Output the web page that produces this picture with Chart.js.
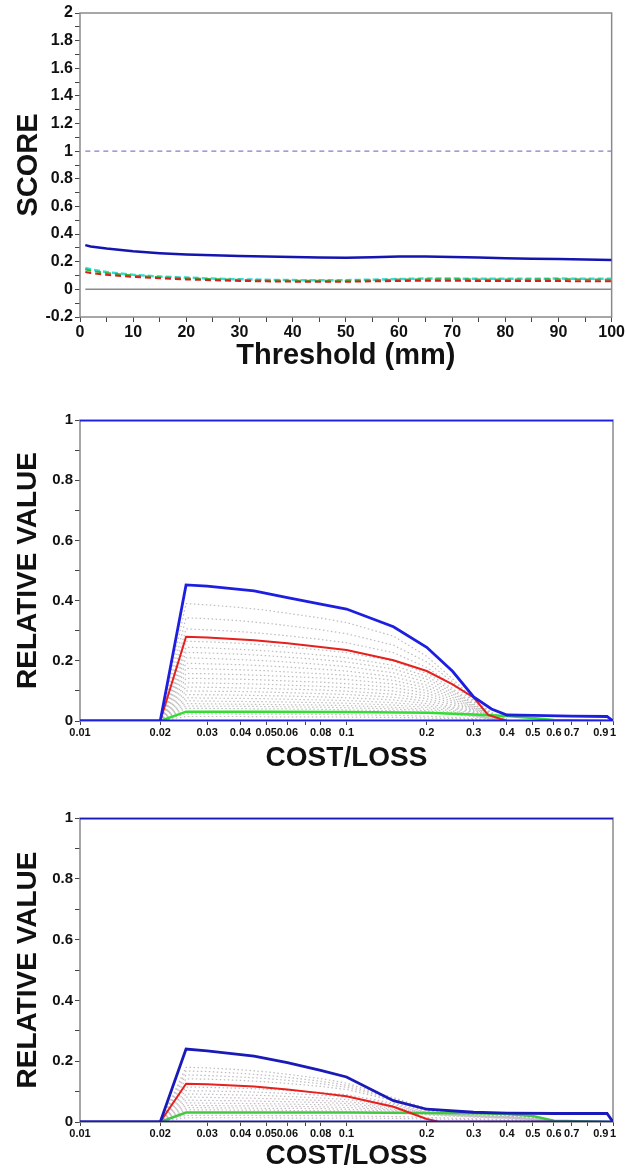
<!DOCTYPE html>
<html>
<head>
<meta charset="utf-8">
<script src="https://cdn.jsdelivr.net/npm/chart.js@4.4.1/dist/chart.umd.min.js"></script>
<style>
    body { margin: 0; background: #fff; }
    #wrap { position: relative; width: 626px; height: 1170px; }
    .panel { position: absolute; left: 0; width: 626px; }
</style>
</head>
<body>
<div id="wrap">
    <div class="panel" style="top:0;height:370px"><canvas id="scoreChart"></canvas></div>
    <div class="panel" style="top:390px;height:382px"><canvas id="valueChartA"></canvas></div>
    <div class="panel" style="top:780px;height:390px"><canvas id="valueChartB"></canvas></div>
</div>
<script>
// --- Score vs threshold ---
const thresholds = [1, 2, 5, 10, 15, 20, 25, 30, 35, 40, 45, 50, 55, 60, 65, 70, 75, 80, 85, 90, 95, 100];
const scoreBlue  = [0.320, 0.310, 0.295, 0.275, 0.262, 0.253, 0.247, 0.241, 0.237, 0.234, 0.231, 0.228, 0.232, 0.237, 0.237, 0.235, 0.230, 0.225, 0.222, 0.220, 0.216, 0.212];
const scoreCyan  = [0.155, 0.145, 0.125, 0.105, 0.093, 0.085, 0.078, 0.073, 0.069, 0.067, 0.066, 0.066, 0.070, 0.075, 0.078, 0.078, 0.077, 0.076, 0.077, 0.078, 0.077, 0.076];
const scoreGreen = [0.145, 0.135, 0.118, 0.100, 0.088, 0.080, 0.074, 0.069, 0.065, 0.063, 0.062, 0.062, 0.066, 0.071, 0.073, 0.073, 0.072, 0.071, 0.072, 0.073, 0.072, 0.070];
const scoreRed   = [0.125, 0.118, 0.105, 0.090, 0.080, 0.072, 0.066, 0.061, 0.058, 0.056, 0.055, 0.055, 0.058, 0.061, 0.062, 0.062, 0.061, 0.060, 0.060, 0.060, 0.059, 0.058];
const scoreRefX  = [1, 100];
const scorePerfect = [1, 1];
const scoreZero    = [0, 0];

// --- Relative value, first panel ---
const costLossTicks = [0.01, 0.02, 0.03, 0.04, 0.05, 0.06, 0.07, 0.08, 0.1, 0.2, 0.3, 0.4, 0.5, 0.6, 0.7, 0.8, 0.9, 1];
const costLossLabels = ["0.01", "0.02", "0.03", "0.04", "0.05", "0.06", "", "0.08", "0.1", "0.2", "0.3", "0.4", "0.5", "0.6", "0.7", "", "0.9", "1"];
const fullRangeX = [0.01, 1];
const levelOne = [1, 1];
const levelZero = [0, 0];

const valueA_blueX  = [0.01, 0.02, 0.025, 0.03, 0.045, 0.06, 0.08, 0.1, 0.15, 0.2, 0.25, 0.3, 0.35, 0.4, 0.5, 0.7, 0.95, 1];
const valueA_blue   = [0, 0, 0.452, 0.448, 0.432, 0.410, 0.388, 0.372, 0.313, 0.245, 0.165, 0.080, 0.040, 0.020, 0.019, 0.016, 0.015, 0];
const valueA_redX   = [0.02, 0.025, 0.03, 0.045, 0.06, 0.08, 0.1, 0.15, 0.2, 0.25, 0.3, 0.34, 0.4, 1];
const valueA_red    = [0, 0.280, 0.277, 0.268, 0.258, 0.246, 0.236, 0.202, 0.166, 0.122, 0.078, 0.020, 0, 0];
const valueA_greenX = [0.02, 0.025, 0.05, 0.1, 0.2, 0.3, 0.4, 0.5, 0.6, 1];
const valueA_green  = [0, 0.031, 0.031, 0.030, 0.027, 0.022, 0.017, 0.010, 0.003, 0];

const valueA_grayX = [0.02, 0.025, 0.03, 0.04, 0.05, 0.06, 0.08, 0.1, 0.15, 0.2, 0.25, 0.3, 0.35, 0.4];
const valueA_gray = [
    [0, 0.390, 0.386, 0.377, 0.368, 0.358, 0.342, 0.327, 0.282, 0.215, 0.140, 0.072, 0.028, 0.008],
    [0, 0.343, 0.340, 0.333, 0.325, 0.317, 0.303, 0.290, 0.252, 0.196, 0.130, 0.068, 0.026, 0.007],
    [0, 0.306, 0.303, 0.297, 0.290, 0.283, 0.271, 0.260, 0.227, 0.178, 0.120, 0.064, 0.024, 0.006],
    [0, 0.265, 0.263, 0.258, 0.252, 0.246, 0.236, 0.227, 0.199, 0.158, 0.108, 0.058, 0.022, 0.005],
    [0, 0.245, 0.243, 0.238, 0.233, 0.228, 0.219, 0.210, 0.185, 0.148, 0.102, 0.055, 0.020, 0.005],
    [0, 0.228, 0.226, 0.222, 0.217, 0.212, 0.204, 0.196, 0.173, 0.139, 0.096, 0.052, 0.019, 0.004],
    [0, 0.210, 0.208, 0.204, 0.200, 0.196, 0.188, 0.181, 0.160, 0.129, 0.090, 0.049, 0.018, 0.004],
    [0, 0.192, 0.190, 0.187, 0.183, 0.179, 0.172, 0.166, 0.147, 0.119, 0.084, 0.046, 0.017, 0.004],
    [0, 0.175, 0.173, 0.170, 0.167, 0.163, 0.157, 0.152, 0.135, 0.110, 0.078, 0.043, 0.016, 0.003],
    [0, 0.158, 0.157, 0.154, 0.151, 0.148, 0.143, 0.138, 0.123, 0.101, 0.072, 0.040, 0.015, 0.003],
    [0, 0.142, 0.141, 0.139, 0.136, 0.133, 0.129, 0.124, 0.111, 0.092, 0.066, 0.037, 0.014, 0.003],
    [0, 0.127, 0.126, 0.124, 0.122, 0.119, 0.115, 0.111, 0.100, 0.083, 0.060, 0.034, 0.013, 0.002],
    [0, 0.113, 0.112, 0.110, 0.108, 0.106, 0.103, 0.099, 0.089, 0.074, 0.054, 0.031, 0.012, 0.002],
    [0, 0.100, 0.099, 0.098, 0.096, 0.094, 0.091, 0.088, 0.079, 0.066, 0.048, 0.028, 0.011, 0.002],
    [0, 0.088, 0.087, 0.086, 0.084, 0.083, 0.080, 0.077, 0.070, 0.058, 0.043, 0.025, 0.010, 0.002],
    [0, 0.077, 0.076, 0.075, 0.074, 0.072, 0.070, 0.068, 0.061, 0.051, 0.038, 0.022, 0.009, 0.001],
    [0, 0.067, 0.066, 0.065, 0.064, 0.063, 0.061, 0.059, 0.053, 0.045, 0.033, 0.020, 0.008, 0.001],
    [0, 0.058, 0.057, 0.056, 0.055, 0.054, 0.053, 0.051, 0.046, 0.039, 0.029, 0.018, 0.007, 0.001],
    [0, 0.050, 0.049, 0.049, 0.048, 0.047, 0.046, 0.044, 0.040, 0.034, 0.025, 0.016, 0.006, 0.001],
    [0, 0.042, 0.042, 0.041, 0.040, 0.040, 0.039, 0.037, 0.034, 0.029, 0.022, 0.014, 0.006, 0.001],
    [0, 0.024, 0.024, 0.023, 0.023, 0.023, 0.022, 0.021, 0.019, 0.016, 0.012, 0.008, 0.004, 0.001],
    [0, 0.015, 0.015, 0.015, 0.014, 0.014, 0.014, 0.013, 0.012, 0.010, 0.008, 0.005, 0.002, 0.001]
];

// --- Relative value, second panel ---
const valueB_blueX  = [0.01, 0.02, 0.025, 0.03, 0.045, 0.06, 0.08, 0.1, 0.15, 0.2, 0.3, 0.4, 0.6, 0.95, 1];
const valueB_blue   = [0, 0, 0.240, 0.234, 0.217, 0.195, 0.170, 0.148, 0.070, 0.042, 0.032, 0.029, 0.028, 0.028, 0];
const valueB_redX   = [0.02, 0.025, 0.03, 0.045, 0.06, 0.08, 0.1, 0.15, 0.2, 0.22, 1];
const valueB_red    = [0, 0.126, 0.124, 0.117, 0.107, 0.095, 0.085, 0.050, 0.010, 0.002, 0];
const valueB_greenX = [0.02, 0.025, 0.05, 0.1, 0.2, 0.3, 0.4, 0.5, 0.6, 1];
const valueB_green  = [0, 0.031, 0.031, 0.031, 0.030, 0.029, 0.026, 0.020, 0.004, 0];

const valueB_grayX = [0.02, 0.025, 0.03, 0.04, 0.05, 0.06, 0.08, 0.1, 0.15, 0.2, 0.3, 0.4, 0.5, 0.6];
const valueB_gray = [
    [0, 0.180, 0.178, 0.172, 0.165, 0.157, 0.143, 0.128, 0.080, 0.045, 0.030, 0.025, 0.018, 0.004],
    [0, 0.168, 0.166, 0.160, 0.154, 0.147, 0.134, 0.121, 0.077, 0.044, 0.029, 0.024, 0.017, 0.004],
    [0, 0.155, 0.153, 0.148, 0.143, 0.137, 0.126, 0.114, 0.074, 0.042, 0.028, 0.023, 0.016, 0.004],
    [0, 0.142, 0.141, 0.137, 0.132, 0.127, 0.117, 0.107, 0.070, 0.040, 0.027, 0.022, 0.015, 0.003],
    [0, 0.115, 0.114, 0.111, 0.108, 0.104, 0.097, 0.090, 0.062, 0.037, 0.025, 0.020, 0.014, 0.003],
    [0, 0.103, 0.102, 0.100, 0.097, 0.094, 0.088, 0.082, 0.058, 0.035, 0.024, 0.019, 0.013, 0.003],
    [0, 0.092, 0.091, 0.089, 0.087, 0.084, 0.079, 0.074, 0.054, 0.033, 0.022, 0.018, 0.012, 0.002],
    [0, 0.082, 0.081, 0.079, 0.077, 0.075, 0.071, 0.067, 0.050, 0.031, 0.021, 0.017, 0.011, 0.002],
    [0, 0.072, 0.071, 0.070, 0.068, 0.067, 0.064, 0.061, 0.046, 0.030, 0.020, 0.016, 0.010, 0.002],
    [0, 0.063, 0.062, 0.061, 0.060, 0.059, 0.057, 0.055, 0.042, 0.028, 0.019, 0.015, 0.009, 0.002],
    [0, 0.055, 0.054, 0.053, 0.053, 0.052, 0.050, 0.048, 0.039, 0.027, 0.018, 0.014, 0.008, 0.001],
    [0, 0.047, 0.047, 0.046, 0.045, 0.045, 0.044, 0.042, 0.035, 0.025, 0.017, 0.013, 0.008, 0.001],
    [0, 0.040, 0.040, 0.039, 0.039, 0.038, 0.037, 0.036, 0.031, 0.023, 0.016, 0.012, 0.007, 0.001],
    [0, 0.022, 0.022, 0.022, 0.021, 0.021, 0.021, 0.020, 0.018, 0.015, 0.011, 0.009, 0.005, 0.001],
    [0, 0.014, 0.014, 0.014, 0.014, 0.013, 0.013, 0.013, 0.012, 0.010, 0.008, 0.006, 0.004, 0.001]
];

Chart.defaults.font.family = "'Liberation Sans', Arial, sans-serif";
Chart.defaults.color = "#111";

const RED = "#e6201c";
const GRAY_DOT = "#bdbdbd";

function toPoints(xs, ys) {
    return xs.map((x, i) => ({ x: x, y: ys[i] }));
}

function line(label, xs, ys, style) {
    return Object.assign({
        label: label,
        data: toPoints(xs, ys),
        pointRadius: 0,
        borderWidth: 2,
        fill: false,
        tension: 0
    }, style);
}

// gray frame around the plotting area, under the curves
const plotFrame = {
    id: "plotFrame",
    beforeDatasetsDraw(chart) {
        const a = chart.chartArea;
        const ctx = chart.ctx;
        ctx.save();
        ctx.strokeStyle = "#8a8a8a";
        ctx.lineWidth = 1.5;
        ctx.strokeRect(a.left, a.top, a.right - a.left, a.bottom - a.top);
        ctx.restore();
    }
};

function tenthsLabel(value) {
    const v = Math.round(value * 10);
    return v % 2 === 0 ? String(v / 10) : "";
}

const tickGrid = { display: true, drawOnChartArea: false, drawTicks: true, tickLength: 5, tickColor: "#444", lineWidth: 1 };

// --- Chart 1: score vs threshold ---
new Chart(document.getElementById("scoreChart"), {
    type: "line",
    data: {
        datasets: [
            line("perfect", scoreRefX, scorePerfect, { borderColor: "#8080cc", borderWidth: 1.2, borderDash: [5, 4], order: 1 }),
            line("zero", scoreRefX, scoreZero, { borderColor: "#8a8a8a", borderWidth: 1.5, order: 6 }),
            line("blue", thresholds, scoreBlue, { borderColor: "#1414b0", borderWidth: 2.5, order: 2 }),
            line("cyan", thresholds, scoreCyan, { borderColor: "#3adada", borderWidth: 2.5, borderDash: [6, 3], order: 5 }),
            line("green", thresholds, scoreGreen, { borderColor: "#2fb52f", borderWidth: 2, borderDash: [6, 4], order: 4 }),
            line("red", thresholds, scoreRed, { borderColor: "#d42020", borderWidth: 2, borderDash: [6, 4], order: 3 })
        ]
    },
    options: {
        responsive: true,
        maintainAspectRatio: false,
        animation: false,
        layout: { padding: { top: 13, right: 13, left: 0, bottom: 0 } },
        plugins: { legend: { display: false }, tooltip: { enabled: false } },
        scales: {
            x: {
                type: "linear",
                min: 0,
                max: 100,
                grid: tickGrid,
                border: { display: false },
                ticks: {
                    stepSize: 5,
                    autoSkip: false,
                    maxRotation: 0,
                    padding: 1,
                    font: { size: 16, weight: "bold" },
                    callback: (v) => (v % 10 === 0 ? String(v) : "")
                },
                title: { display: true, text: "Threshold (mm)", font: { size: 29, weight: "bold", lineHeight: 1 }, padding: { top: 0, bottom: 0 } },
                afterFit: (s) => { s.height = 53; }
            },
            y: {
                min: -0.2,
                max: 2,
                grid: tickGrid,
                border: { display: false },
                ticks: {
                    stepSize: 0.1,
                    autoSkip: false,
                    padding: 2,
                    font: { size: 16, weight: "bold" },
                    callback: tenthsLabel
                },
                title: { display: true, text: "SCORE", font: { size: 29, weight: "bold", lineHeight: 1 }, padding: { top: 14, bottom: 0 } },
                afterFit: (s) => { s.width = 80; }
            }
        }
    },
    plugins: [plotFrame]
});

// --- Relative value charts ---
function valueChart(canvasId, parts, padTop, axisHeight) {
    const datasets = [
        line("one", fullRangeX, levelOne, { borderColor: parts.blueColor, borderWidth: 3, order: 1 }),
        line("zero", fullRangeX, levelZero, { borderColor: parts.blueColor, borderWidth: 3, order: 1 }),
        line("envelope", parts.blueX, parts.blue, { borderColor: parts.blueColor, borderWidth: 2.8, order: 2 }),
        line("red", parts.redX, parts.red, { borderColor: RED, borderWidth: 2, order: 3 }),
        line("green", parts.greenX, parts.green, { borderColor: parts.greenColor, borderWidth: 2.5, order: 4 })
    ];
    parts.gray.forEach((ys, i) => {
        datasets.push(line("member " + (i + 1), parts.grayX, ys, {
            borderColor: parts.grayColors[i % parts.grayColors.length],
            borderWidth: 1.2,
            borderDash: [1.5, 2.5],
            order: 10
        }));
    });

    new Chart(document.getElementById(canvasId), {
        type: "line",
        data: { datasets: datasets },
        options: {
            responsive: true,
            maintainAspectRatio: false,
            animation: false,
            layout: { padding: { top: padTop, right: 13, left: 0, bottom: 0 } },
            plugins: { legend: { display: false }, tooltip: { enabled: false } },
            scales: {
                x: {
                    type: "logarithmic",
                    min: 0.01,
                    max: 1,
                    grid: Object.assign({}, tickGrid, { tickLength: 4 }),
                    border: { display: false },
                    afterBuildTicks: (axis) => {
                        axis.ticks = costLossTicks.map((v) => ({ value: v }));
                    },
                    ticks: {
                        autoSkip: false,
                        maxRotation: 0,
                        minRotation: 0,
                        padding: 1,
                        font: { size: 11, weight: "bold" },
                        callback: (v) => {
                            const i = costLossTicks.findIndex((t) => Math.abs(t - v) < 1e-9);
                            return i >= 0 ? costLossLabels[i] : "";
                        }
                    },
                    title: { display: true, text: "COST/LOSS", font: { size: 28, weight: "bold", lineHeight: 1 }, padding: { top: 0, bottom: 0 } },
                    afterFit: (s) => { s.height = axisHeight; }
                },
                y: {
                    min: 0,
                    max: 1,
                    grid: tickGrid,
                    border: { display: false },
                    ticks: {
                        stepSize: 0.1,
                        autoSkip: false,
                        padding: 2,
                        font: { size: 15, weight: "bold" },
                        callback: tenthsLabel
                    },
                    title: { display: true, text: "RELATIVE VALUE", font: { size: 28, weight: "bold", lineHeight: 1 }, padding: { top: 14, bottom: 0 } },
                    afterFit: (s) => { s.width = 80; }
                }
            }
        },
        plugins: [plotFrame]
    });
}

valueChart("valueChartA", {
    blueX: valueA_blueX, blue: valueA_blue, blueColor: "#1e1ee0",
    redX: valueA_redX, red: valueA_red,
    greenX: valueA_greenX, green: valueA_green, greenColor: "#33dd33",
    grayX: valueA_grayX, gray: valueA_gray,
    grayColors: [GRAY_DOT]
}, 30, 51);

valueChart("valueChartB", {
    blueX: valueB_blueX, blue: valueB_blue, blueColor: "#1a1ab8",
    redX: valueB_redX, red: valueB_red,
    greenX: valueB_greenX, green: valueB_green, greenColor: "#44c844",
    grayX: valueB_grayX, gray: valueB_gray,
    grayColors: [GRAY_DOT, "#cdb4bb", "#bcbcc8"]
}, 38, 48);
</script>
</body>
</html>
